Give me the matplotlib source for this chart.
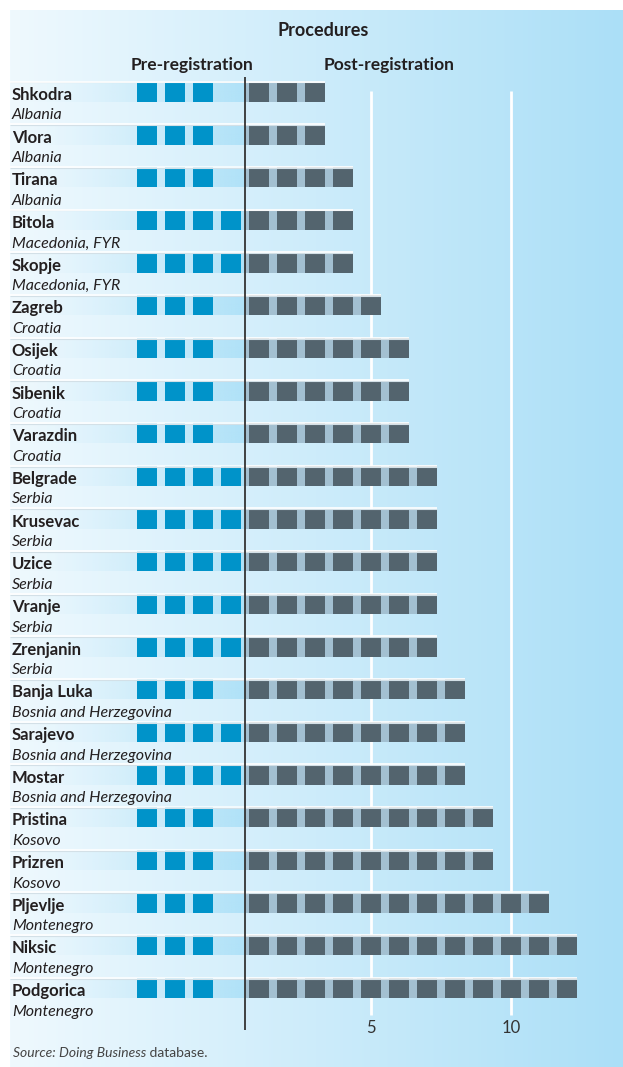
import numpy as np
import matplotlib.pyplot as plt
from matplotlib.colors import to_rgb

plt.rcParams['font.family'] = ['Lato', 'DejaVu Sans']

cities = ['Shkodra', 'Vlora', 'Tirana', 'Bitola', 'Skopje', 'Zagreb', 'Osijek',
          'Sibenik', 'Varazdin', 'Belgrade', 'Krusevac', 'Uzice', 'Vranje',
          'Zrenjanin', 'Banja Luka', 'Sarajevo', 'Mostar', 'Pristina', 'Prizren',
          'Pljevlje', 'Niksic', 'Podgorica']
countries = ['Albania', 'Albania', 'Albania', 'Macedonia, FYR', 'Macedonia, FYR',
             'Croatia', 'Croatia', 'Croatia', 'Croatia', 'Serbia', 'Serbia',
             'Serbia', 'Serbia', 'Serbia', 'Bosnia and Herzegovina',
             'Bosnia and Herzegovina', 'Bosnia and Herzegovina', 'Kosovo', 'Kosovo',
             'Montenegro', 'Montenegro', 'Montenegro']
pre_reg = [3, 3, 3, 4, 4, 3, 3, 3, 3, 4, 4, 4, 4, 4, 3, 4, 4, 3, 3, 3, 3, 3]
post_reg = [3, 3, 4, 4, 4, 5, 6, 6, 6, 7, 7, 7, 7, 7, 8, 8, 8, 9, 9, 11, 12, 12]
tick_vals = [5, 10]

TXT = '#231f20'
PRE_C = '#0093c9'
POST_C = '#53646e'
POST_BG = '#a3c0d1'
STRIP = '#b0e2f8'

fig = plt.figure(figsize=(6.23, 10.67), dpi=100)
ax = fig.add_axes([10 / 623, 0, 613 / 623, 1057 / 1067])

xl, xr = (10 - 245) / 28, (623 - 245) / 28
yt, yb = (10 - 92) / 42.67, (1067 - 92) / 42.67
ax.set_xlim(xl, xr)
ax.set_ylim(yb, yt)

# background gradient
c0 = np.array(to_rgb('#eff9fe'))
c1 = np.array(to_rgb('#abdff7'))
t = np.linspace(0, 1, 256)
grad = c0[None, :] * (1 - t[:, None]) + c1[None, :] * t[:, None]
ax.imshow(grad[None, :, :], extent=[xl, xr, yb, yt], aspect='auto', zorder=0)

h = 0.47
sq = 20 / 28
gap = (1 - sq) / 2
npre = max(pre_reg)

# white gridlines
for v in tick_vals:
    ax.vlines(v - 0.5, -0.02, 21.63, color='white', lw=2, zorder=1)

sc = np.array(to_rgb(STRIP))
for i in range(len(cities)):
    # pre-registration strip with fade
    a = np.linspace(0, 1, 200) ** 1.8
    strip = np.zeros((1, 200, 4))
    strip[0, :, :3] = sc
    strip[0, :, 3] = a
    ax.imshow(strip, extent=[xl, 0, i + h / 2, i - h / 2], aspect='auto', zorder=2)
    # post-registration strip
    ax.barh(i, post_reg[i] - gap, left=0, height=h, color=POST_BG, zorder=2)
    # squares
    k = np.arange(1, post_reg[i] + 1)
    ax.barh([i] * len(k), sq, left=k - 1 + gap, height=h, color=POST_C, zorder=3)
    j = np.arange(pre_reg[i])
    ax.barh([i] * len(j), sq, left=-npre + j + gap, height=h, color=PRE_C, zorder=3)
    # separator line
    ax.hlines(i - h / 2 + 0.012, xl, post_reg[i] - gap, color='#d3e0e7', lw=0.8, zorder=3.5)
    ax.hlines(i - h / 2 - 0.01, xl, post_reg[i] - gap, color='white', lw=1.2, zorder=4)
    # labels
    ax.text(-8.33, i + 0.07, cities[i], fontsize=12, fontweight='bold', color=TXT,
            va='center', ha='left', zorder=5)
    ax.text(-8.33, i + 0.55, countries[i], fontsize=11.5, style='italic', color=TXT,
            va='center', ha='left', zorder=5)

# axis line
ax.vlines(0, -0.35, 21.98, color='#333333', lw=1.3, zorder=4)

ax.text(2.79, -1.44, 'Procedures', fontsize=13, fontweight='bold', color=TXT,
        ha='center', va='center')
ax.text(-1.9, -0.63, 'Pre-registration', fontsize=12.5, fontweight='bold', color=TXT,
        ha='center', va='center')
ax.text(5.14, -0.63, 'Post-registration', fontsize=12.5, fontweight='bold', color=TXT,
        ha='center', va='center')

src = ax.text(-8.28, 22.52, 'Source: Doing Business', fontsize=10, style='italic',
              color='#444444', va='center', ha='left')
ax.annotate(' database.', xycoords=src, xy=(1, 0.5), fontsize=10, color='#444444',
            va='center', ha='left')

# ticks
for s in ['left', 'right', 'top']:
    ax.spines[s].set_visible(False)
ax.spines['bottom'].set_position(('data', 21.72))
ax.spines['bottom'].set_visible(False)
ax.set_xticks([v - 0.5 for v in tick_vals])
ax.set_xticklabels([str(v) for v in tick_vals])
ax.tick_params(axis='x', length=0, pad=1, labelsize=12, labelcolor='#333333')
ax.set_yticks([])

fig.savefig('out.png', dpi=100)
